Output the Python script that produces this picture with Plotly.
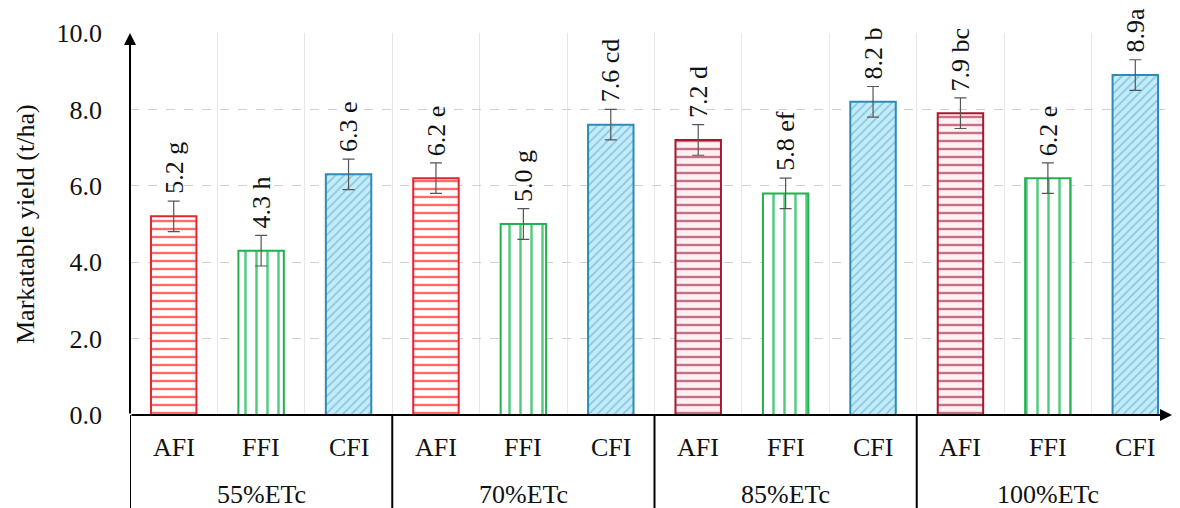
import plotly.graph_objects as go

groups = ["55%ETc", "70%ETc", "85%ETc", "100%ETc"]
treatments = ["AFI", "FFI", "CFI"]
# values per treatment, one per group
afi = [5.2, 6.2, 7.2, 7.9]
ffi = [4.3, 5.0, 5.8, 6.2]
cfi = [6.3, 7.6, 8.2, 8.9]
afi_err = [0.4, 0.4, 0.4, 0.4]
ffi_err = [0.4, 0.4, 0.4, 0.4]
cfi_err = [0.4, 0.4, 0.4, 0.4]
afi_lbl = ["5.2 g", "6.2 e", "7.2 d", "7.9 bc"]
ffi_lbl = ["4.3 h", "5.0 g", "5.8 ef", "6.2 e"]
cfi_lbl = ["6.3 e", "7.6 cd", "8.2 b", "8.9a"]
yticks = [0, 2, 4, 6, 8, 10]

FONT = "Liberation Serif"

series = [
    dict(name="AFI", vals=afi, err=afi_err, lbl=afi_lbl, shape="-", size=8, sol=0.3,
         line=["#e3262d", "#e3262d", "#a8172b", "#a8172b"],
         fg=["#ff6a6a", "#ff6a6a", "#c87088", "#c87088"],
         bg=["#ffffff", "#ffffff", "#fff0f2", "#fff0f2"]),
    dict(name="FFI", vals=ffi, err=ffi_err, lbl=ffi_lbl, shape="|", size=11, sol=0.22,
         line=["#22b050"] * 4, fg=["#4ccc7c"] * 4, bg=["#ffffff"] * 4),
    dict(name="CFI", vals=cfi, err=cfi_err, lbl=cfi_lbl, shape="/", size=6, sol=0.3,
         line=["#2e8bb8"] * 4, fg=["#88c8e4"] * 4, bg=["#c4ecf8"] * 4),
]

fig = go.Figure()
annotations = []
for ti, s in enumerate(series):
    for gi in range(len(groups)):
        x = gi * len(treatments) + ti
        v, e, t = s["vals"][gi], s["err"][gi], s["lbl"][gi]
        fig.add_trace(go.Bar(
            x=[x], y=[v], width=0.52, name=s["name"],
            marker=dict(color=s["bg"][gi], line=dict(color=s["line"][gi], width=2),
                        pattern=dict(shape=s["shape"], fgcolor=s["fg"][gi],
                                     bgcolor=s["bg"][gi], size=s["size"], solidity=s["sol"],
                                     fillmode="replace")),
            error_y=dict(type="data", array=[e], color="#555555", thickness=1.2, width=6),
            showlegend=False, cliponaxis=False,
        ))
        annotations.append(dict(x=x, y=v + e, text=t, textangle=-90, showarrow=False,
                                xanchor="center", yanchor="bottom", yshift=5,
                                font=dict(family=FONT, size=26, color="#111")))

# category labels
for gi, g in enumerate(groups):
    for ti, t in enumerate(treatments):
        annotations.append(dict(x=gi * 3 + ti, y=0, yref="paper", text=t, showarrow=False,
                                xanchor="center", yanchor="middle", yshift=-32,
                                font=dict(family=FONT, size=26, color="#111")))
    annotations.append(dict(x=gi * 3 + 1, y=0, yref="paper", text=g, showarrow=False,
                            xanchor="center", yanchor="middle", yshift=-79,
                            font=dict(family=FONT, size=26, color="#111")))

# y-axis title
annotations.append(dict(x=0, xref="paper", y=0.5, yref="paper", xshift=-105,
                        text="Markatable yield (t/ha)", textangle=-90, showarrow=False,
                        xanchor="center", yanchor="middle",
                        font=dict(family=FONT, size=26, color="#111")))

# axis arrows
annotations.append(dict(x=-0.5, y=10, ax=-0.5, ay=0, xref="x", yref="y", axref="x", ayref="y",
                        showarrow=True, arrowhead=2, arrowsize=1.2, arrowwidth=2,
                        arrowcolor="#000", text=""))
annotations.append(dict(x=11.42, y=0, ax=-0.5, ay=0, xref="x", yref="y", axref="x", ayref="y",
                        showarrow=True, arrowhead=2, arrowsize=1.2, arrowwidth=2,
                        arrowcolor="#000", text=""))

shapes = []
for gi in range(len(groups)):
    shapes.append(dict(type="line", xref="x", yref="paper", x0=gi * 3 - 0.5, x1=gi * 3 - 0.5,
                       y0=0, y1=-0.26, line=dict(color="#000", width=2)))

fig.update_layout(
    width=1172, height=500,
    margin=dict(l=122, r=1, t=25, b=93),
    plot_bgcolor="white", paper_bgcolor="white",
    barmode="overlay",
    font=dict(family=FONT, size=26, color="#111"),
    xaxis=dict(range=[-0.5, 11.5], tickvals=[i + 0.5 for i in range(11)],
               showticklabels=False, ticks="", showgrid=True, gridcolor="#e6e6e6",
               gridwidth=1, zeroline=False, showline=False, fixedrange=True),
    yaxis=dict(range=[0, 10], tickvals=yticks, tickformat=".1f", ticks="",
               showgrid=True, gridcolor="#d0d0d0", griddash="dash", gridwidth=1,
               zeroline=False, showline=False, ticklabelstandoff=27,
               tickfont=dict(family=FONT, size=26, color="#111")),
    annotations=annotations, shapes=shapes,
)

fig.write_html("out.html")
